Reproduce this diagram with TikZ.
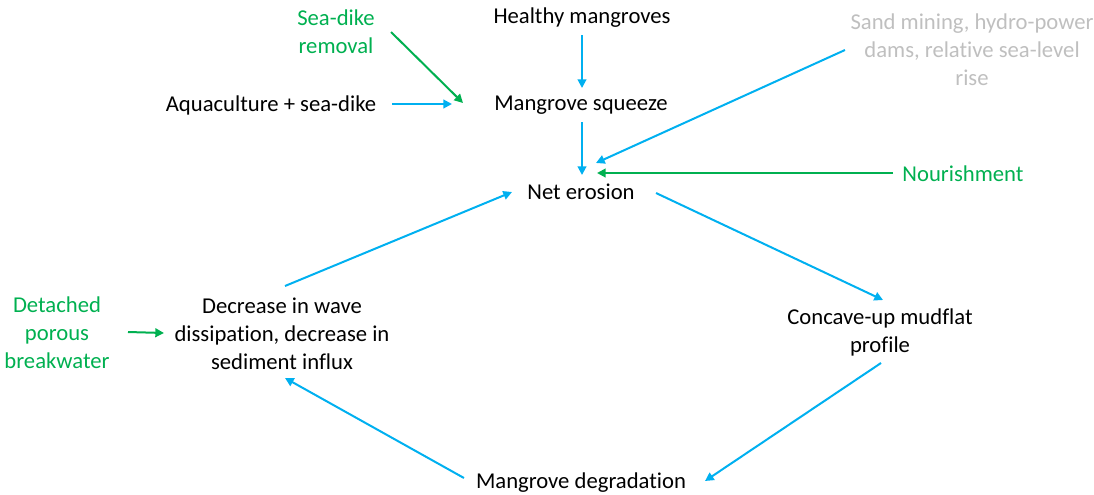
\documentclass[tikz,border=0pt]{standalone}
\usepackage{fontspec}
\setmainfont{Carlito}[Ligatures={NoCommon}]
\usetikzlibrary{arrows.meta,calc}
\definecolor{cblue}{HTML}{00B0F0}
\definecolor{cgreen}{HTML}{00B050}
\definecolor{cgray}{HTML}{BFBFBF}
\tikzset{
  lbl/.style={inner sep=0pt,align=center,font=\fontsize{17}{21}\selectfont},
  blbl/.style={lbl,text=black},
  glbl/.style={lbl,text=cgreen},
  ylbl/.style={lbl,text=cgray},
  barrow/.style={draw=cblue,line width=1.5pt,-{Triangle[length=6.5pt,width=6.5pt]}},
  garrow/.style={draw=cgreen,line width=1.5pt,-{Triangle[length=6.5pt,width=6.5pt]}}
}
\begin{document}
\begin{tikzpicture}[x=0.75pt,y=-0.75pt]
\useasboundingbox (0,0) rectangle (1094,494);
\node[glbl] (seadike) at (336,32) {Sea-dike\\removal};
\node[blbl] (healthy) at (582,18) {Healthy mangroves};
\node[ylbl] (sand) at (972,50) {Sand mining, hydro-power\\dams, relative sea-level\\rise};
\node[blbl] (aqua) at (271,105) {Aquaculture + sea-dike};
\node[blbl] (squeeze) at (581,105) {Mangrove squeeze};
\node[blbl] (net) at (581,192) {Net erosion};
\node[glbl] (nour) at (963,174) {Nourishment};
\node[glbl] (detached) at (57,333) {Detached\\porous\\breakwater};
\node[blbl] (decrease) at (282,334) {Decrease in wave\\dissipation, decrease in\\sediment influx};
\node[blbl] (concave) at (880,332) {Concave-up mudflat\\profile};
\node[blbl] (degr) at (581,483) {Mangrove degradation};

\draw[barrow] ($(healthy)+(0,17)$) -- ($(squeeze)+(1,-17)$);
\draw[barrow] ($(squeeze)+(1,17)$) -- ($(net)+(1,-17)$);
\draw[barrow] ($(aqua)+(121,-1)$) -- ($(squeeze)+(-129,-1)$);
\draw[garrow] ($(seadike)+(55,0)$) -- ($(squeeze)+(-118,-2)$);
\draw[barrow] ($(sand)+(-127,0)$) -- ($(net)+(15,-29)$);
\draw[garrow] ($(nour)+(-70,-1)$) -- ($(net)+(16,-19)$);
\draw[barrow] ($(net)+(75,1)$) -- ($(concave)+(3,-32)$);
\draw[barrow] ($(concave)+(1,31)$) -- ($(degr)+(124,-2)$);
\draw[barrow] ($(degr)+(-117,-5)$) -- ($(decrease)+(3,44)$);
\draw[barrow] ($(decrease)+(3,-48)$) -- ($(net)+(-69,0)$);
\draw[garrow] ($(detached)+(71,-1)$) -- ($(decrease)+(-118,-1)$);
\end{tikzpicture}
\end{document}
